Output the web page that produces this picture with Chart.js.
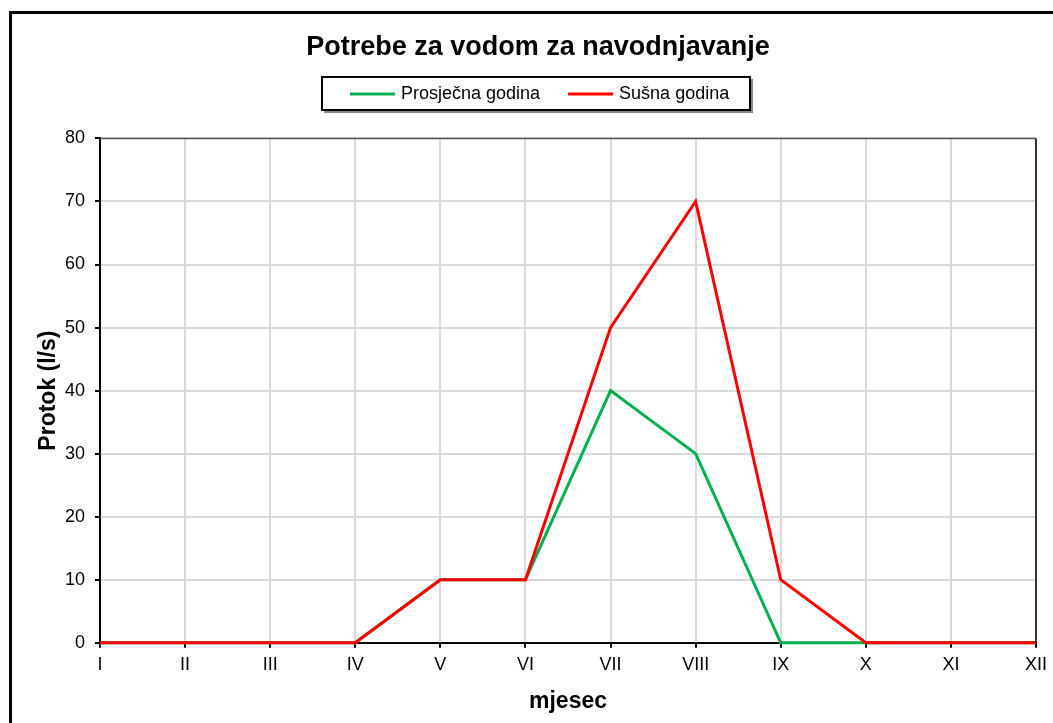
<!DOCTYPE html>
<html>
<head>
<meta charset="utf-8">
<script src="https://cdn.jsdelivr.net/npm/chart.js"></script>
<style>
  body { margin: 0; background: #fff; }
  canvas { display: block; }
</style>
</head>
<body>
<canvas id="chart" width="1053" height="723"></canvas>
<script>
// Podaci
const mjeseci = ['I', 'II', 'III', 'IV', 'V', 'VI', 'VII', 'VIII', 'IX', 'X', 'XI', 'XII'];
const prosjecna = [0, 0, 0, 0, 10, 10, 40, 30, 0, 0, 0, 0];
const susna = [0, 0, 0, 0, 10, 10, 50, 70, 10, 0, 0, 0];

const FONT = 'Arial, "Liberation Sans", sans-serif';

// legenda u okviru (crta se rucno, iz podataka grafikona)
const legendaOkvir = {
    id: 'legendaOkvir',
    afterDraw(chart) {
        const ctx = chart.ctx;
        ctx.save();
        // sjena
        ctx.strokeStyle = '#888';
        ctx.lineWidth = 2;
        ctx.beginPath();
        ctx.moveTo(752, 79);
        ctx.lineTo(752, 112);
        ctx.lineTo(324, 112);
        ctx.stroke();
        ctx.strokeStyle = '#000';
        ctx.lineWidth = 2;
        ctx.strokeRect(322, 77, 428, 33);

        ctx.font = '18px ' + FONT;
        ctx.textBaseline = 'middle';
        ctx.textAlign = 'left';
        const y = 94;
        let x = 350;
        chart.data.datasets.forEach(ds => {
            ctx.strokeStyle = ds.borderColor;
            ctx.lineWidth = 3;
            ctx.beginPath();
            ctx.moveTo(x, y);
            ctx.lineTo(x + 45, y);
            ctx.stroke();
            ctx.fillStyle = '#000';
            ctx.fillText(ds.label, x + 51, y);
            x += 51 + ctx.measureText(ds.label).width + 28;
        });
        ctx.restore();
    }
};

// okvir oko cijelog grafikona i plot area
const okviri = {
    id: 'okviri',
    beforeDraw(chart) {
        const ctx = chart.ctx;
        ctx.save();
        ctx.fillStyle = '#fff';
        ctx.fillRect(0, 0, chart.width, chart.height);
        ctx.strokeStyle = '#000';
        ctx.lineWidth = 3;
        ctx.strokeRect(10.5, 12.5, 1100, 800);
        ctx.restore();
    },
    afterDatasetsDraw(chart) {
        const ctx = chart.ctx;
        const a = chart.chartArea;
        ctx.save();
        ctx.lineWidth = 1.5;
        ctx.strokeStyle = '#555';
        ctx.beginPath();
        ctx.moveTo(a.left, a.top);
        ctx.lineTo(a.right, a.top);
        ctx.stroke();
        ctx.strokeStyle = '#000';
        ctx.beginPath();
        ctx.moveTo(a.right, a.top);
        ctx.lineTo(a.right, a.bottom);
        ctx.stroke();
        ctx.restore();
    }
};

new Chart(document.getElementById('chart'), {
    type: 'line',
    data: {
        labels: mjeseci,
        datasets: [
            {
                label: 'Prosječna godina',
                data: prosjecna,
                borderColor: '#00b050',
                backgroundColor: '#00b050',
                borderWidth: 3,
                pointRadius: 0,
                tension: 0,
                clip: 4,
                order: 1
            },
            {
                label: 'Sušna godina',
                data: susna,
                borderColor: '#ff0000',
                backgroundColor: '#ff0000',
                borderWidth: 3,
                pointRadius: 0,
                tension: 0,
                clip: 4,
                order: 0
            }
        ]
    },
    options: {
        responsive: false,
        animation: false,
        layout: {
            padding: { left: 39, right: 16, top: 31, bottom: 8 }
        },
        plugins: {
            title: {
                display: true,
                text: 'Potrebe za vodom za navodnjavanje',
                color: '#000',
                font: { family: FONT, size: 27, weight: 'bold' },
                padding: { top: 0, bottom: 75 }
            },
            legend: { display: false },
            tooltip: { enabled: false }
        },
        scales: {
            x: {
                offset: false,
                grid: {
                    color: '#d9d9d9',
                    lineWidth: 2,
                    drawTicks: true,
                    tickLength: 5,
                    tickColor: '#000'
                },
                border: { color: '#000', width: 2 },
                ticks: {
                    color: '#000',
                    font: { family: FONT, size: 18 },
                    maxRotation: 0,
                    padding: 6
                },
                title: {
                    display: true,
                    text: 'mjesec',
                    color: '#000',
                    font: { family: FONT, size: 23, weight: 'bold' },
                    padding: { top: 6, bottom: 0 }
                }
            },
            y: {
                min: 0,
                max: 80,
                grid: {
                    color: '#d9d9d9',
                    lineWidth: 2,
                    tickLength: 5,
                    tickColor: '#000'
                },
                border: { color: '#000', width: 2 },
                ticks: {
                    stepSize: 10,
                    color: '#000',
                    font: { family: FONT, size: 18 },
                    padding: 10
                },
                title: {
                    display: true,
                    text: 'Protok (l/s)',
                    color: '#000',
                    font: { family: FONT, size: 23, weight: 'bold' },
                    padding: { top: -4, bottom: 0 }
                },
                afterFit(scale) { scale.width = 61; }
            }
        }
    },
    plugins: [legendaOkvir, okviri]
});
</script>
</body>
</html>
